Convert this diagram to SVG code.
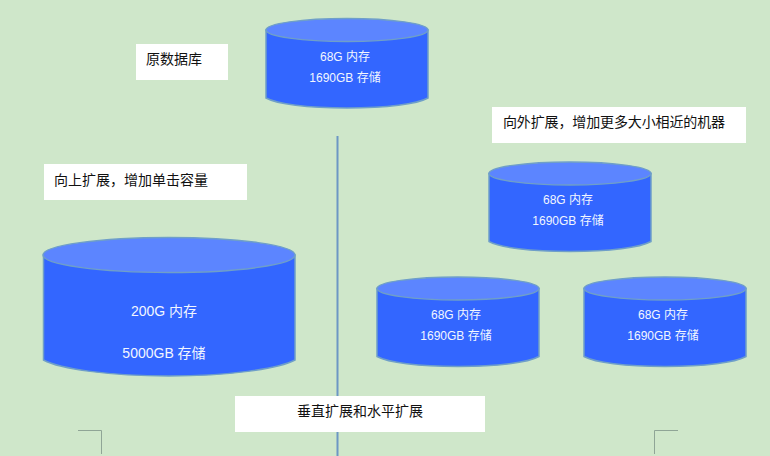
<svg xmlns="http://www.w3.org/2000/svg" width="770" height="456" viewBox="0 0 770 456">
<style>
.body{fill:#3366ff;stroke:#6f9fc8;stroke-width:1.5}
.top{fill:#5c85ff;stroke:#6f9fc8;stroke-width:1.5}
.t{font-family:"Liberation Sans","Noto Sans CJK SC",sans-serif;font-size:12px;fill:#f2f6ff;text-anchor:middle}
.b{font-size:14px}
.l{font-family:"Liberation Sans","Noto Sans CJK SC",sans-serif;font-size:14px;fill:#111}
.box{fill:#fff}
.crop{fill:none;stroke:#8fa596;stroke-width:1}
</style>
<defs>
<g id="cyl">
<path class="body" d="M-81 -70V-2C-70 4 -40 8 0 8S70 4 81 -2V-70Z"/>
<ellipse class="top" cx="0" cy="-70" rx="81" ry="11.500"/>
</g>
</defs>
<rect width="770" height="456" fill="#cfe7ca"/>
<g id="connectors">
<line x1="337.500" y1="136" x2="337.500" y2="456" stroke="#6d97c4" stroke-width="2"/>
</g>
<g id="label-source"><rect class="box" x="136" y="44" width="92" height="36"/><text class="l" x="146" y="64">原数据库</text></g>
<g id="db-source"><use href="#cyl" x="347" y="100"/><text class="t" x="345" y="61">68G 内存</text><text class="t" x="345" y="82">1690GB 存储</text></g>
<g id="label-out"><rect class="box" x="492" y="107" width="254" height="36"/><text class="l" x="503" y="127" textLength="222">向外扩展，增加更多大小相近的机器</text></g>
<g id="label-up"><rect class="box" x="44" y="164" width="203" height="36"/><text class="l" x="54" y="185">向上扩展，增加单击容量</text></g>
<g id="db-out-top"><use href="#cyl" x="570" y="243.500"/><text class="t" x="568" y="204">68G 内存</text><text class="t" x="568" y="225">1690GB 存储</text></g>
<g id="db-out-left"><use href="#cyl" x="458" y="358.500"/><text class="t" x="456" y="319">68G 内存</text><text class="t" x="456" y="340">1690GB 存储</text></g>
<g id="db-out-right"><use href="#cyl" x="665" y="358.500"/><text class="t" x="663" y="319">68G 内存</text><text class="t" x="663" y="340">1690GB 存储</text></g>
<g id="db-up">
<path class="body" d="M43.500 255V360C60 369 110 376 169 376S278 369 295 360V255Z"/>
<ellipse class="top" cx="169" cy="255" rx="126" ry="17.500"/>
<text class="t b" x="164" y="316">200G 内存</text><text class="t b" x="164" y="358">5000GB 存储</text>
</g>
<g id="label-caption"><rect class="box" x="235" y="396" width="250" height="36"/><text class="l" x="360" y="416" text-anchor="middle">垂直扩展和水平扩展</text></g>
<path class="crop" d="M78 430.500H101.500V454"/>
<path class="crop" d="M678 430.500H654.500V454"/>
</svg>
